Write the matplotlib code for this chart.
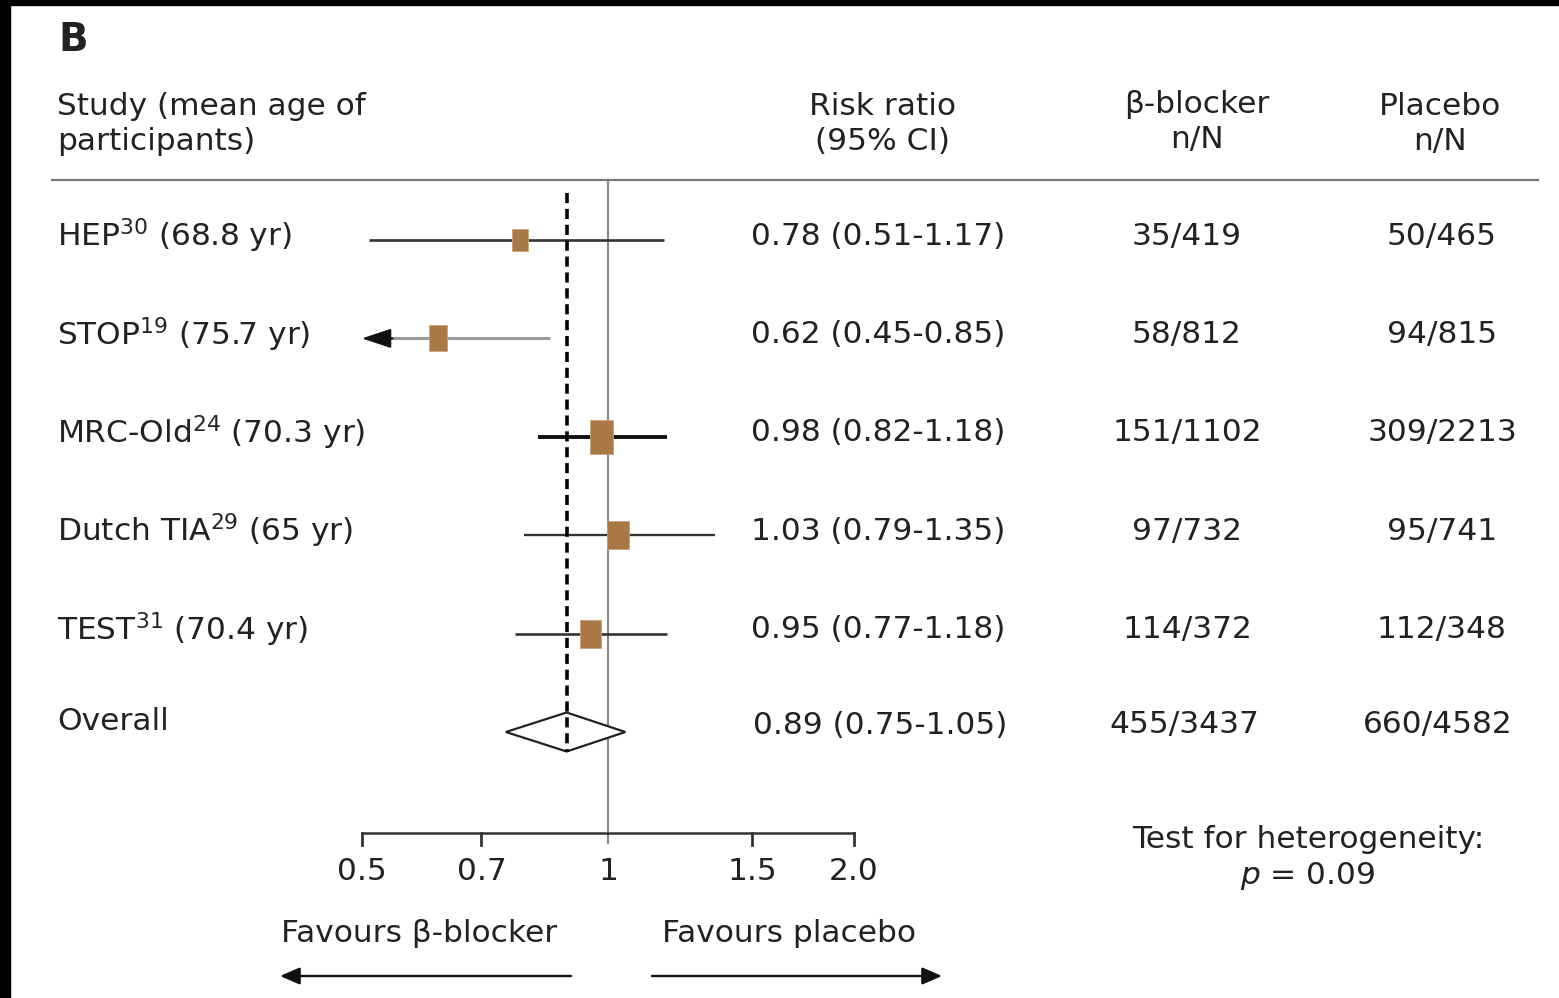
import numpy as np
import matplotlib
matplotlib.use("Agg")
import matplotlib.pyplot as plt
from matplotlib.path import Path
from matplotlib.patches import Rectangle
from matplotlib.transforms import blended_transform_factory

# ---------------- data ----------------
studies = ["HEP$^{30}$ (68.8 yr)", "STOP$^{19}$ (75.7 yr)", "MRC-Old$^{24}$ (70.3 yr)",
           "Dutch TIA$^{29}$ (65 yr)", "TEST$^{31}$ (70.4 yr)"]
rr = [0.78, 0.62, 0.98, 1.03, 0.95]
ci_low = [0.51, 0.45, 0.82, 0.79, 0.77]
ci_high = [1.17, 0.85, 1.18, 1.35, 1.18]
bb_n = [35, 58, 151, 97, 114]
bb_N = [419, 812, 1102, 732, 372]
pl_n = [50, 94, 309, 95, 112]
pl_N = [465, 815, 2213, 741, 348]
overall_rr, overall_low, overall_high = 0.89, 0.75, 1.05
overall_bb = "455/3437"
overall_pl = "660/4582"
xticks = [0.5, 0.7, 1, 1.5, 2.0]
xticklabels = ["0.5", "0.7", "1", "1.5", "2.0"]
heterogeneity_p = "0.09"

# ---------------- style ----------------
W, H = 1559, 998
FS = 22.5
TXT = "#222222"
BROWN = "#a87846"
line_colors = ["#333333", "#9a9a9a", "#111111", "#333333", "#333333"]
line_widths = [1.9, 2.2, 2.8, 1.7, 1.9]
box_h = [22, 27, 34, 28, 28]      # marker heights in px
box_w = [16, 19, 23, 22, 21]      # marker widths in px

X1PX, PXPERLN = 608.0, 355.0      # pixel of RR=1 and pixels per ln unit

fig = plt.figure(figsize=(W / 100, H / 100), dpi=100)
ax = fig.add_axes([0, 0, 1, 1])
ax.set_xscale("log")
ax.set_xlim(np.exp((0 - X1PX) / PXPERLN), np.exp((W - X1PX) / PXPERLN))
ax.set_ylim(H, 0)
ax.axis("off")

def fx(px):
    return px / W

bt = blended_transform_factory(ax.transAxes, ax.transData)

# black frame strips (scan border)
fig.patches.append(Rectangle((0, 1 - 5 / H), 1, 5 / H, transform=fig.transFigure,
                             color="black", zorder=10))
fig.patches.append(Rectangle((0, 0), 10 / W, 1, transform=fig.transFigure,
                             color="black", zorder=10))

# panel letter
ax.text(fx(58), 40, "B", transform=bt, fontsize=28, fontweight="bold",
        color=TXT, ha="left", va="center")

# headers
ax.text(fx(57), 124, "Study (mean age of\nparticipants)", transform=bt, fontsize=FS,
        color=TXT, ha="left", va="center", linespacing=1.25)
ax.text(fx(882), 124, "Risk ratio\n(95% CI)", transform=bt, fontsize=FS,
        color=TXT, ha="center", va="center", linespacing=1.25)
ax.text(fx(1197), 122, "β-blocker\nn/N", transform=bt, fontsize=FS,
        color=TXT, ha="center", va="center", linespacing=1.25)
ax.text(fx(1440), 124, "Placebo\nn/N", transform=bt, fontsize=FS,
        color=TXT, ha="center", va="center", linespacing=1.25)
ax.plot([fx(52), fx(1538)], [180, 180], transform=bt, color="#777777", lw=1.6)

# rows
row0, dy = 240.0, 98.4
rows = [row0 + i * dy for i in range(len(studies) + 1)]

# reference line at 1 and dashed overall line
ax.plot([1, 1], [180, 843], color="#888888", lw=1.5, zorder=1)
ax.plot([overall_rr, overall_rr], [193, 752], color="black", lw=2.6,
        linestyle=(0, (2.8, 1.6)), zorder=3)

def box_marker(w, h):
    verts = [(-w / 2, -h / 2), (w / 2, -h / 2), (w / 2, h / 2), (-w / 2, h / 2), (-w / 2, -h / 2)]
    return Path(verts, [Path.MOVETO, Path.LINETO, Path.LINETO, Path.LINETO, Path.CLOSEPOLY])

for i, name in enumerate(studies):
    y = rows[i]
    lo, hi = ci_low[i], ci_high[i]
    if lo < xticks[0]:
        ax.plot([xticks[0] * 1.05, hi], [y, y], color=line_colors[i], lw=line_widths[i],
                zorder=2, solid_capstyle="butt")
        ax.annotate("", xy=(xticks[0], y), xytext=(xticks[0] * 1.09, y),
                    arrowprops=dict(arrowstyle="-|>,head_length=0.9,head_width=0.3",
                                    mutation_scale=20, color="#111111", lw=1.5,
                                    shrinkA=0, shrinkB=0), zorder=2)
    else:
        ax.plot([lo, hi], [y, y], color=line_colors[i], lw=line_widths[i], zorder=2,
                solid_capstyle="butt")
    ax.plot([rr[i]], [y], marker=box_marker(box_w[i], box_h[i]),
            markersize=box_h[i] * 0.72, color=BROWN, markeredgecolor="#c9a27a",
            markeredgewidth=0.6, zorder=4, linestyle="none")
    ty = y - 4
    ax.text(fx(57), ty, name, transform=bt, fontsize=FS, color=TXT, ha="left", va="center")
    ax.text(fx(878), ty, f"{rr[i]:.2f} ({lo:.2f}-{hi:.2f})", transform=bt, fontsize=FS,
            color=TXT, ha="center", va="center")
    ax.text(fx(1187), ty, f"{bb_n[i]}/{bb_N[i]}", transform=bt, fontsize=FS,
            color=TXT, ha="center", va="center")
    ax.text(fx(1442), ty, f"{pl_n[i]}/{pl_N[i]}", transform=bt, fontsize=FS,
            color=TXT, ha="center", va="center")

# overall diamond
yo = rows[-1]
ax.fill([overall_low, overall_rr, overall_high, overall_rr],
        [yo, yo - 19.5, yo, yo + 19.5], facecolor="white", edgecolor="#222222",
        lw=1.6, zorder=2)
ax.text(fx(57), yo - 10, "Overall", transform=bt, fontsize=FS, color=TXT,
        ha="left", va="center")
ax.text(fx(880), yo - 7, f"{overall_rr:.2f} ({overall_low:.2f}-{overall_high:.2f})",
        transform=bt, fontsize=FS, color=TXT, ha="center", va="center")
ax.text(fx(1184), yo - 7, overall_bb, transform=bt, fontsize=FS, color=TXT,
        ha="center", va="center")
ax.text(fx(1438), yo - 7, overall_pl, transform=bt, fontsize=FS, color=TXT,
        ha="center", va="center")

# bottom axis
yax = 833
ax.plot([xticks[0], xticks[-1]], [yax, yax], color="#333333", lw=1.8, zorder=2)
for t, lab in zip(xticks, xticklabels):
    if t != 1:
        ax.plot([t, t], [yax, yax + 12], color="#333333", lw=2.0)
    ax.text(t, 871, lab, fontsize=FS, color=TXT, ha="center", va="center")

ax.text(fx(419), 933, "Favours β-blocker", transform=bt, fontsize=FS, color=TXT,
        ha="center", va="center")
ax.text(fx(789), 933, "Favours placebo", transform=bt, fontsize=FS, color=TXT,
        ha="center", va="center")
ax.annotate("", xy=(fx(280), 976), xytext=(fx(571), 976),
            xycoords=bt, textcoords=bt,
            arrowprops=dict(arrowstyle="-|>,head_length=0.6,head_width=0.26",
                            mutation_scale=20, color="#111111", lw=1.7,
                            shrinkA=0, shrinkB=0))
ax.annotate("", xy=(fx(942), 976), xytext=(fx(652), 976),
            xycoords=bt, textcoords=bt,
            arrowprops=dict(arrowstyle="-|>,head_length=0.6,head_width=0.26",
                            mutation_scale=20, color="#111111", lw=1.7,
                            shrinkA=0, shrinkB=0))

# heterogeneity
ax.text(fx(1308), 840, "Test for heterogeneity:", transform=bt, fontsize=FS, color=TXT,
        ha="center", va="center")
ax.text(fx(1308), 876, f"$p$ = {heterogeneity_p}", transform=bt, fontsize=FS, color=TXT,
        ha="center", va="center")

fig.savefig("out.png", dpi=100, facecolor="white")
